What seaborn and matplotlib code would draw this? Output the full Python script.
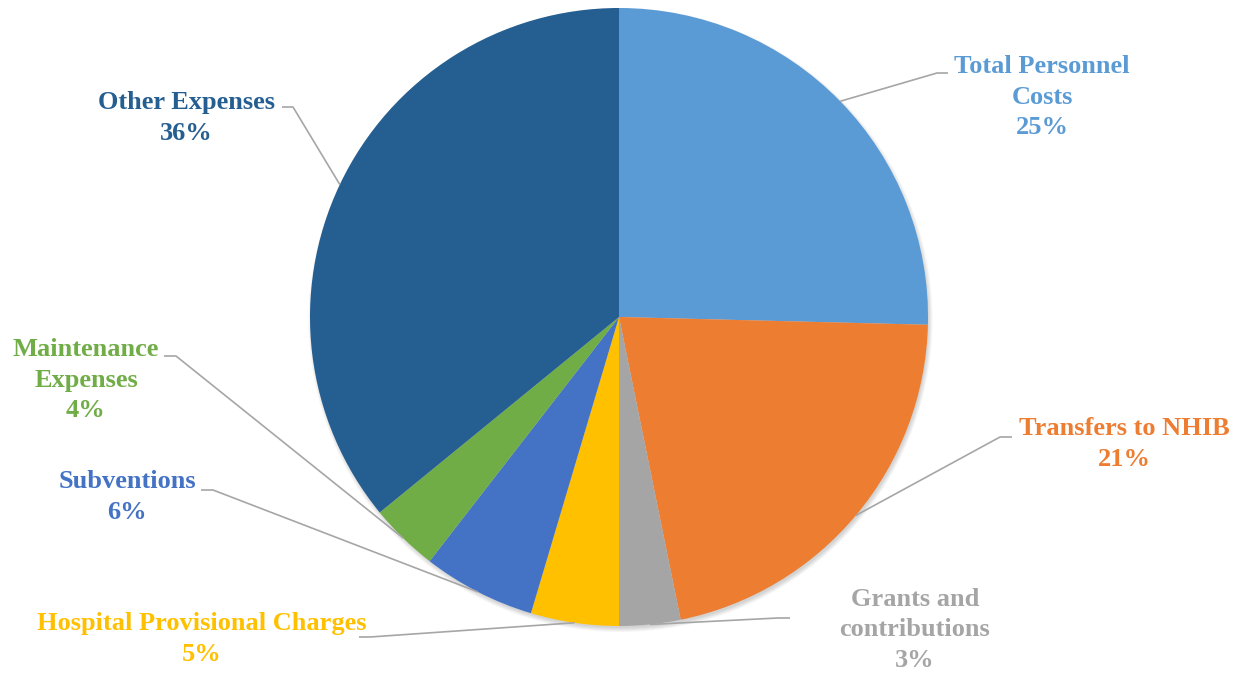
import numpy as np
import matplotlib
matplotlib.use("Agg")
import matplotlib.pyplot as plt
import seaborn as sns

# expense shares (percent), clockwise from 12 o'clock
categories = ['Total Personnel\nCosts', 'Transfers to NHIB', 'Grants and\ncontributions',
              'Hospital Provisional Charges', 'Subventions', 'Maintenance\nExpenses',
              'Other Expenses']
shares = [25.4, 21.4, 3.2, 4.6, 5.9, 3.6, 35.9]
pct_labels = ['25%', '21%', '3%', '5%', '6%', '4%', '36%']
colors = ['#5B9BD5', '#ED7D31', '#A5A5A5', '#FFC000', '#4472C4', '#70AD47', '#255E91']

sns.set_theme(style='white')
plt.rcParams['font.family'] = ['Liberation Serif', 'DejaVu Serif']

W, H = 1240, 675
fig = plt.figure(figsize=(12.4, 6.75), dpi=100)
ax = fig.add_axes([0, 0, 1, 1])

cx, cy, r = 619, H - 317, 309

# soft shadow under the pie (offset down/right)
for i in range(5):
    ax.add_patch(plt.Circle((cx + 1.5, cy - 3), r - 1 + i, color='black', alpha=0.035, lw=0, zorder=0))

wedges, _ = ax.pie(shares, colors=colors, startangle=90, counterclock=False,
                   center=(cx, cy), radius=r, frame=True,
                   wedgeprops=dict(linewidth=0))
ax.set_xlim(0, W)
ax.set_ylim(0, H)
ax.axis('off')

# label layout: text centre, elbow point, tail end (pixel coords from top-left)
text_pos = [(1042, 97), (1124, 444), (915, 630), (202, 639), (127, 497), (86, 380), (186, 118)]
elbows = [(937, 73), (1000, 437), (778, 618), (370, 637), (213, 490), (176, 356), (293, 107)]
tails = [948, 1012, 790, 359, 201, 164, 282]

line_col = '#A6A6A6'
for w, lab, pct, col, tp, el, tx in zip(wedges, categories, pct_labels, colors, text_pos, elbows, tails):
    mid = np.deg2rad((w.theta1 + w.theta2) / 2)
    px, py = cx + r * np.cos(mid), cy + r * np.sin(mid)
    ex, ey = el[0], H - el[1]
    ax.plot([px, ex, tx], [py, ey, ey], color=line_col, lw=1.2, zorder=3,
            solid_capstyle='butt')
    ax.text(tp[0], H - tp[1], f'{lab}\n{pct}', color=col, fontsize=19, fontweight='bold',
            ha='center', va='center', linespacing=1.4, zorder=4)

fig.savefig('out.png', dpi=100)
